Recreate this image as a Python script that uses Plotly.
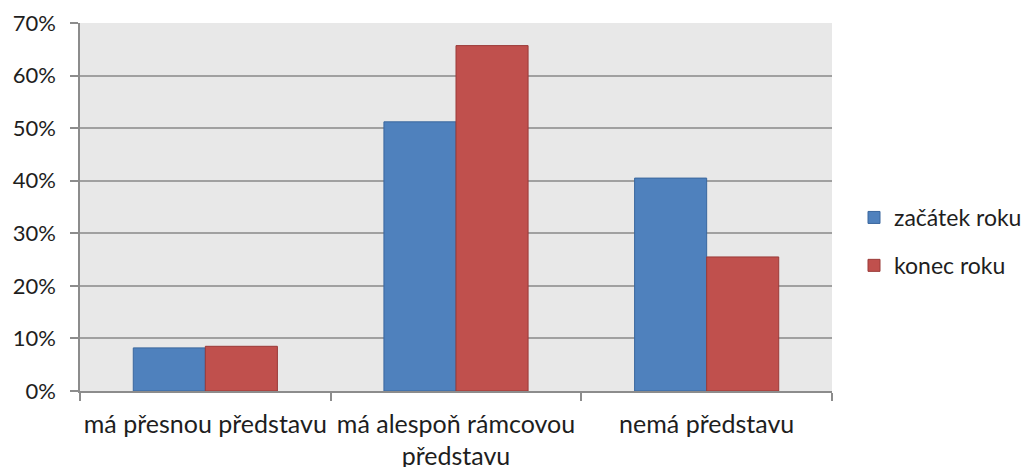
import plotly.graph_objects as go

categories = ["má přesnou představu", "má alespoň rámcovou<br>představu", "nemá představu"]
zacatek_roku = [0.082, 0.512, 0.405]
konec_roku = [0.085, 0.657, 0.255]
series_names = ["začátek roku", "konec roku"]

FONT = "Lato"
# the page body keeps an 8px margin, so the figure is a bit smaller than the window
W, H = 1025, 459

fig = go.Figure()

fig.add_trace(
    go.Bar(
        x=categories,
        y=zacatek_roku,
        name=series_names[0],
        legendgroup="a",
        marker=dict(color="#4F81BD", line=dict(color="#3A679E", width=1)),
    )
)
fig.add_trace(
    go.Bar(
        x=categories,
        y=konec_roku,
        name=series_names[1],
        legendgroup="b",
        marker=dict(color="#C0504D", line=dict(color="#9A3A38", width=1)),
    )
)

fig.update_layout(
    width=W,
    height=H,
    barmode="group",
    bargap=0.425,
    bargroupgap=0,
    paper_bgcolor="#FFFFFF",
    plot_bgcolor="#E8E8E8",
    font=dict(family=FONT, size=25, color="#1E1E1E"),
    margin=dict(l=72, r=201, t=15, b=76),
    showlegend=True,
    legend=dict(
        x=846 / W,
        y=1 - 188 / H,
        xref="container",
        yref="container",
        xanchor="left",
        yanchor="top",
        traceorder="grouped",
        tracegroupgap=15,
        font=dict(family=FONT, size=23, color="#1E1E1E"),
        bgcolor="rgba(0,0,0,0)",
    ),
)

fig.update_xaxes(
    automargin=False,
    tickangle=0,
    showline=True,
    linecolor="#8C8C8C",
    linewidth=1.5,
    ticks="outside",
    tickson="boundaries",
    ticklen=8,
    tickcolor="#8C8C8C",
    tickwidth=1.5,
    ticklabelstandoff=10,
    showgrid=False,
)

fig.update_yaxes(
    automargin=False,
    range=[0, 0.7],
    dtick=0.1,
    tickformat=".0%",
    tickfont=dict(size=22),
    showline=True,
    linecolor="#8C8C8C",
    linewidth=1.5,
    ticks="outside",
    ticklen=8,
    tickcolor="#8C8C8C",
    tickwidth=1.5,
    ticklabelstandoff=10,
    showgrid=True,
    gridcolor="#A0A0A0",
    gridwidth=1.5,
    zeroline=False,
)

fig.write_html("out.html")
